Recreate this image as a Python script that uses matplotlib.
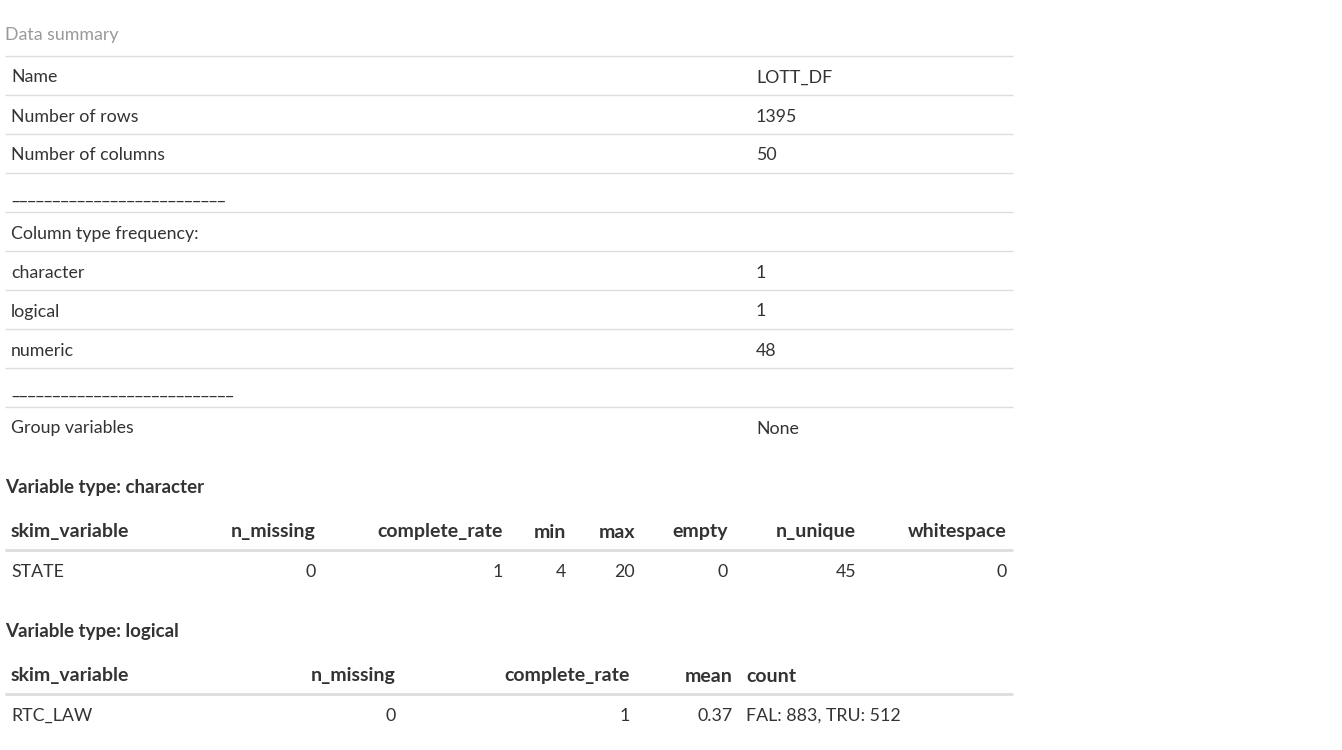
import matplotlib
matplotlib.use("Agg")
import matplotlib.pyplot as plt

plt.rcParams["font.family"] = ["Lato", "DejaVu Sans"]

# ---- data -----------------------------------------------------------
summary_title = "Data summary"
summary_labels = ["Name", "Number of rows", "Number of columns",
                  "_" * 26, "Column type frequency:",
                  "character", "logical", "numeric",
                  "_" * 27, "Group variables"]
summary_values = ["LOTT_DF", "1395", "50", "", "", "1", "1", "48", "", "None"]

char_title = "Variable type: character"
char_cols = ["skim_variable", "n_missing", "complete_rate", "min", "max",
             "empty", "n_unique", "whitespace"]
char_row = ["STATE", "0", "1", "4", "20", "0", "45", "0"]

lgl_title = "Variable type: logical"
lgl_cols = ["skim_variable", "n_missing", "complete_rate", "mean", "count"]
lgl_row = ["RTC_LAW", "0", "1", "0.37", "FAL: 883, TRU: 512"]

# ---- layout (pixels) -----------------------------------------------
W, H = 1342, 750
TXT = "#333333"
RULE = "#dddddd"
FS = 12.8       # body text
FS_HEAD = 14    # bold column headers
FS_TITLE = 13.5 # bold section titles
LEFT, RIGHT = 5, 1013
DY = 2          # nudge text down to sit like the html rows

fig = plt.figure(figsize=(W / 100, H / 100), dpi=100)
ax = fig.add_axes([0, 0, 1, 1])
ax.set_xlim(0, W)
ax.set_ylim(H, 0)
ax.axis("off")

# summary table
ax.text(LEFT, 33 + DY, summary_title, color="#999999", fontsize=FS, va="center")
row_h = 39
top = 56
for i, (lab, val) in enumerate(zip(summary_labels, summary_values)):
    y0 = top + i * row_h
    ax.hlines(y0, LEFT, RIGHT, color=RULE, lw=1)
    yc = y0 + row_h / 2 + DY
    ax.text(11, yc, lab, color=TXT, fontsize=FS, va="center")
    ax.text(756, yc, val, color=TXT, fontsize=FS, va="center")


def skim_table(title, y_title, cols, row, xs, aligns):
    ax.text(LEFT, y_title + DY, title, color=TXT, fontsize=FS_TITLE,
            fontweight="bold", va="center")
    y_head = y_title + 45
    y_line = y_head + 20
    y_row = y_line + 20
    ax.hlines(y_line, LEFT, RIGHT, color=RULE, lw=2)
    for c, v, x, a in zip(cols, row, xs, aligns):
        ax.text(x, y_head + DY, c, color=TXT, fontsize=FS_HEAD,
                fontweight="bold", ha=a, va="center")
        ax.text(x, y_row + DY, v, color=TXT, fontsize=FS, ha=a, va="center")


skim_table(char_title, 485, char_cols, char_row,
           [11, 316, 503, 566, 635, 728, 856, 1007],
           ["left"] + ["right"] * 7)
skim_table(lgl_title, 629, lgl_cols, lgl_row,
           [11, 396, 630, 733, 746],
           ["left", "right", "right", "right", "left"])

fig.savefig("out.png", dpi=100, facecolor="white")
